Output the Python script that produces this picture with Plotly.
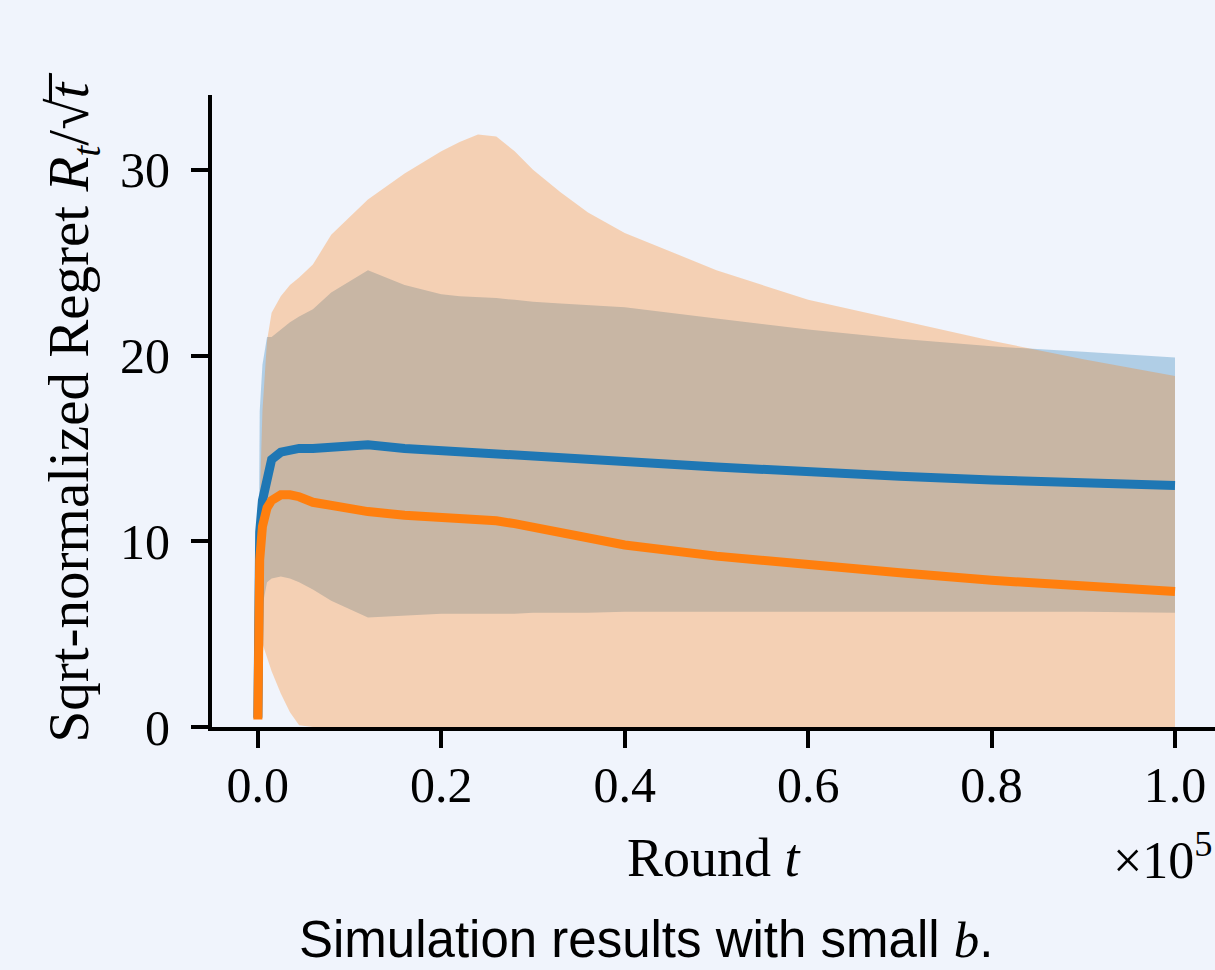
import plotly.graph_objects as go

# ---- data ----
rounds = [0, 200, 500, 1000, 1500, 2500, 3500, 4500, 6000, 8000, 12000, 16000,
          20000, 22000, 24000, 26000, 28000, 30000, 33000, 36000, 40000,
          50000, 60000, 70000, 80000, 90000, 100000]
blue_mean = [0.5, 10.5, 12.2, 13.6, 14.4, 14.8, 14.9, 15.0, 15.0, 15.1, 15.2, 15.0,
             14.9, 14.85, 14.8, 14.75, 14.7, 14.6, 14.5, 14.4, 14.3,
             14.0, 13.7, 13.5, 13.3, 13.15, 13.0]
blue_upper = [0.5, 17.0, 19.5, 21.0, 21.0, 21.4, 21.8, 22.1, 22.5, 23.4, 24.6, 23.8,
              23.3, 23.2, 23.15, 23.1, 23.0, 22.9, 22.8, 22.7, 22.6,
              22.0, 21.4, 20.9, 20.5, 20.2, 19.9]
blue_lower = [0.5, 4.0, 6.5, 7.8, 8.0, 8.1, 8.0, 7.8, 7.4, 6.8, 5.9, 6.0,
              6.1, 6.1, 6.1, 6.1, 6.1, 6.15, 6.15, 6.15, 6.2,
              6.2, 6.2, 6.2, 6.2, 6.2, 6.15]
orange_mean = [0.4, 9.0, 10.8, 11.8, 12.2, 12.5, 12.5, 12.4, 12.1, 11.9, 11.6, 11.4,
               11.3, 11.28, 11.22, 11.1, 10.95, 10.75, 10.45, 10.15, 9.8,
               9.2, 8.7, 8.3, 7.9, 7.6, 7.3]
orange_upper = [0.4, 12.0, 17.0, 20.8, 22.3, 23.2, 23.8, 24.2, 24.9, 26.5, 28.4, 29.8,
                31.0, 31.5, 31.9, 31.8, 31.0, 30.0, 28.8, 27.7, 26.6,
                24.6, 23.0, 21.9, 20.8, 19.8, 18.9]
orange_lower = [0.4, 4.0, 4.5, 3.8, 3.0, 1.8, 0.8, 0.1, 0, 0, 0, 0,
                0, 0, 0, 0, 0, 0, 0, 0, 0,
                0, 0, 0, 0, 0, 0]

x_tickvals = [0, 20000, 40000, 60000, 80000, 100000]
x_ticktext = ["0.0", "0.2", "0.4", "0.6", "0.8", "1.0"]
y_tickvals = [0, 10, 20, 30]
y_ticktext = ["0", "10", "20", "30"]

BLUE = "#1f77b4"
ORANGE = "#ff7f0e"
BG = "#f0f4fc"
SERIF = "Liberation Serif, DejaVu Serif, serif"

fig = go.Figure()
# blue band
fig.add_trace(go.Scatter(x=rounds, y=blue_lower, mode="lines", line=dict(width=0),
                         showlegend=False, hoverinfo="skip"))
fig.add_trace(go.Scatter(x=rounds, y=blue_upper, mode="lines", line=dict(width=0),
                         fill="tonexty", fillcolor="rgba(31,119,180,0.3)",
                         showlegend=False, hoverinfo="skip"))
# orange band
fig.add_trace(go.Scatter(x=rounds, y=orange_lower, mode="lines", line=dict(width=0),
                         showlegend=False, hoverinfo="skip"))
fig.add_trace(go.Scatter(x=rounds, y=orange_upper, mode="lines", line=dict(width=0),
                         fill="tonexty", fillcolor="rgba(255,127,14,0.3)",
                         showlegend=False, hoverinfo="skip"))
# mean lines
fig.add_trace(go.Scatter(x=rounds, y=blue_mean, mode="lines",
                         line=dict(color=BLUE, width=9), showlegend=False))
fig.add_trace(go.Scatter(x=rounds, y=orange_mean, mode="lines",
                         line=dict(color=ORANGE, width=9), showlegend=False))

fig.update_layout(
    width=1215, height=970,
    margin=dict(l=212, r=0, t=95, b=243),
    paper_bgcolor=BG, plot_bgcolor=BG,
    showlegend=False,
    font=dict(family=SERIF, size=50, color="black"),
)
fig.update_xaxes(
    range=[-5000, 104360], tickvals=x_tickvals, ticktext=x_ticktext,
    showgrid=False, zeroline=False, showline=True, linecolor="black", linewidth=4,
    ticks="outside", ticklen=17, tickwidth=4, tickcolor="black",
    tickfont=dict(family=SERIF, size=50), ticklabelstandoff=-6,
)
fig.update_yaxes(
    range=[0, 34.03], tickvals=y_tickvals, ticktext=y_ticktext,
    showgrid=False, zeroline=False, showline=True, linecolor="black", linewidth=4,
    ticks="outside", ticklen=17, tickwidth=4, tickcolor="black",
    tickfont=dict(family=SERIF, size=50), ticklabelstandoff=11,
)

fig.add_annotation(
    text="Sqrt-normalized Regret <i>R<sub>t</sub></i>/√<i>t\u0305</i>",
    xref="paper", yref="paper", x=-0.139, y=0.505, textangle=-90,
    showarrow=False, font=dict(family=SERIF, size=57), xanchor="center", yanchor="middle",
)
fig.add_annotation(
    text="Round <i>t</i>", xref="paper", yref="paper", x=0.5005, y=-0.2073,
    showarrow=False, font=dict(family=SERIF, size=54), xanchor="center", yanchor="middle",
)
fig.add_annotation(
    text="×10<sup>5</sup>", xref="paper", yref="paper", x=1.0, y=-0.205,
    showarrow=False, font=dict(family=SERIF, size=52), xanchor="right", yanchor="middle",
)
fig.add_annotation(
    text="Simulation results with small <i style='font-family:Liberation Serif'>b</i>.",
    xref="paper", yref="paper", x=0.4327, y=-0.3845,
    showarrow=False, font=dict(family="Liberation Sans, Arial, sans-serif", size=51),
    xanchor="center", yanchor="bottom",
)

fig.write_html(
    "out.html",
    config={"displayModeBar": False},
    post_script="document.body.style.margin='0';document.body.style.background='%s';" % BG,
)
